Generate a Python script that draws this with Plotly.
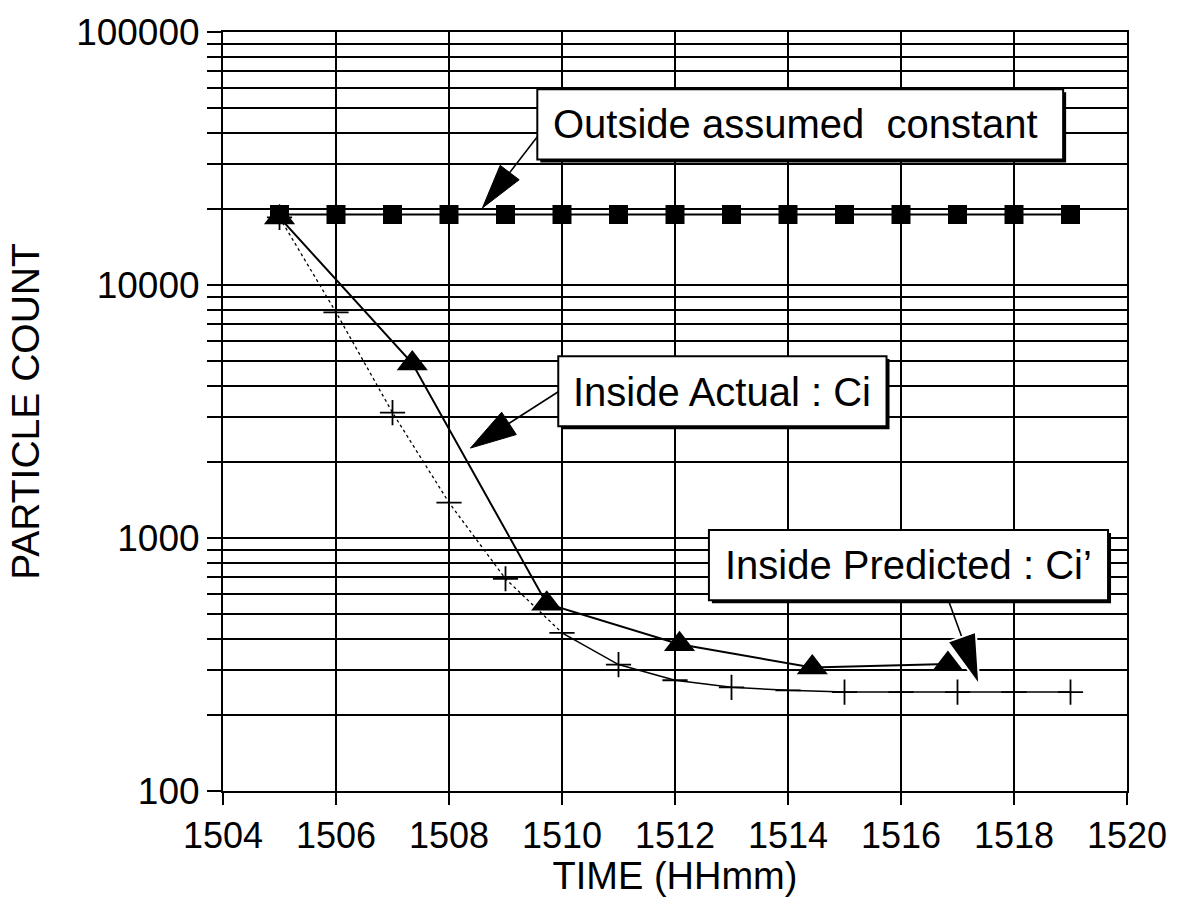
import math
import plotly.graph_objects as go

# ---- data -------------------------------------------------------------
# Outside concentration (assumed constant), one reading per minute
time_outside = [1505, 1506, 1507, 1508, 1509, 1510, 1511, 1512,
                1513, 1514, 1515, 1516, 1517, 1518, 1519]
count_outside = [19000, 19000, 19000, 19000, 19000, 19000, 19000, 19000,
                 19000, 19000, 19000, 19000, 19000, 19000, 19000]

# Inside measured concentration Ci
time_actual = [1505, 1507.35, 1509.73, 1512.08, 1514.43, 1516.83]
count_actual = [18500, 4900, 550, 380, 308, 318]

# Inside predicted concentration Ci'
time_pred = [1505, 1506, 1507, 1508, 1509, 1510, 1511, 1512,
             1513, 1514, 1515, 1516, 1517, 1518, 1519]
count_pred = [18500, 7800, 3130, 1380, 690, 422, 316, 274,
              257, 250, 246, 246, 246, 246, 246]

# axis ticks
x_ticks = [1504, 1506, 1508, 1510, 1512, 1514, 1516, 1518, 1520]
y_ticks = [100, 1000, 10000, 100000]
y_tick_text = ["100", "1000", "10000", "100000"]
y_minor = [200, 300, 400, 500, 600, 700, 800, 900,
           2000, 3000, 4000, 5000, 6000, 7000, 8000, 9000,
           20000, 30000, 40000, 50000, 60000, 70000, 80000, 90000]

FONT = "Liberation Sans, Arial, Helvetica, sans-serif"

# ---- figure geometry (pixels) ------------------------------------------
W, H = 1179, 897
L, R, T, B = 223, 1129, 28, 796


def px(x):
    return (x - L) / (R - L)


def py(y):
    return (B - y) / (B - T)


fig = go.Figure()

# predicted curve: dotted while falling, solid once it levels off
fig.add_trace(go.Scatter(x=time_pred[:6], y=count_pred[:6], mode="lines",
                         line=dict(color="black", width=1.3, dash="dot"),
                         hoverinfo="skip", showlegend=False))
fig.add_trace(go.Scatter(x=time_pred[5:], y=count_pred[5:], mode="lines",
                         line=dict(color="black", width=1.5),
                         hoverinfo="skip", showlegend=False))
fig.add_trace(go.Scatter(x=time_pred, y=count_pred, mode="markers",
                         marker=dict(symbol="cross-thin", size=18,
                                     line=dict(color="black", width=1.8)),
                         name="Inside Predicted : Ci'", showlegend=False))

fig.add_trace(go.Scatter(x=time_outside, y=count_outside, mode="lines+markers",
                         line=dict(color="black", width=2),
                         marker=dict(symbol="square", size=19, color="black"),
                         name="Outside", showlegend=False))

fig.add_trace(go.Scatter(x=time_actual, y=count_actual, mode="lines+markers",
                         line=dict(color="black", width=2),
                         marker=dict(symbol="triangle-up", size=27, color="black"),
                         name="Inside Actual : Ci", showlegend=False))

# ---- callout boxes and arrows --------------------------------------------
shapes = []
annotations = []


def callout(x0, y0, x1, y1, text, cx, cy):
    # drop shadow
    shapes.append(dict(type="rect", xref="paper", yref="paper",
                       x0=px(x0 + 3), x1=px(x1 + 3), y0=py(y0 + 3), y1=py(y1 + 3),
                       fillcolor="black", line=dict(width=0), layer="above"))
    shapes.append(dict(type="rect", xref="paper", yref="paper",
                       x0=px(x0), x1=px(x1), y0=py(y0), y1=py(y1),
                       fillcolor="white", line=dict(color="black", width=2),
                       layer="above"))
    annotations.append(dict(xref="paper", yref="paper", x=px(cx), y=py(cy),
                            text=text, showarrow=False, xanchor="center",
                            yanchor="middle",
                            font=dict(family=FONT, size=40, color="black")))


def arrow(sx, sy, tx, ty, head_len=45, head_w=24, outline=None):
    dx, dy = tx - sx, ty - sy
    d = math.hypot(dx, dy)
    ux, uy = dx / d, dy / d
    bx, by = tx - ux * head_len, ty - uy * head_len
    nx, ny = -uy, ux
    c1 = (bx + nx * head_w / 2, by + ny * head_w / 2)
    c2 = (bx - nx * head_w / 2, by - ny * head_w / 2)
    shapes.append(dict(type="line", xref="paper", yref="paper",
                       x0=px(sx), y0=py(sy), x1=px(bx + ux * 5), y1=py(by + uy * 5),
                       line=dict(color="black", width=1.6), layer="above"))
    path = "M {:.5f},{:.5f} L {:.5f},{:.5f} L {:.5f},{:.5f} Z".format(
        px(tx), py(ty), px(c1[0]), py(c1[1]), px(c2[0]), py(c2[1]))
    shapes.append(dict(type="path", xref="paper", yref="paper", path=path,
                       fillcolor="black",
                       line=dict(color=outline or "black", width=2 if outline else 1),
                       layer="above"))


callout(538, 86, 1065, 157, "Outside assumed\u00a0 constant", 797, 121)
arrow(538, 134, 483, 206)

callout(559, 356, 888, 427, "Inside Actual : Ci", 723, 392)
arrow(559, 392, 471, 449, head_len=46, head_w=27)

callout(710, 532, 1110, 603, "Inside Predicted : Ci\u2019", 910, 567)
arrow(950, 603, 981, 689, head_len=52, head_w=30, outline="white")

fig.update_layout(
    width=W, height=H,
    margin=dict(l=L, r=W - R, t=T, b=H - B),
    paper_bgcolor="white", plot_bgcolor="white",
    font=dict(family=FONT, color="black", size=36),
    shapes=shapes, annotations=annotations,
    showlegend=False,
)

fig.update_xaxes(
    range=[1504, 1520], tickvals=x_ticks,
    ticks="outside", ticklen=12, tickwidth=2, tickcolor="black",
    showgrid=True, gridcolor="black", gridwidth=1.5,
    showline=True, linecolor="black", linewidth=2, mirror=True,
    zeroline=False,
    tickfont=dict(family=FONT, size=36, color="black"),
    title=dict(text="TIME (HHmm)", standoff=2,
               font=dict(family=FONT, size=38, color="black")),
)

fig.update_yaxes(
    type="log", range=[2, 5], tickvals=y_ticks, ticktext=y_tick_text,
    ticks="outside", ticklen=14, tickwidth=2, tickcolor="black",
    showgrid=True, gridcolor="black", gridwidth=2,
    minor=dict(tickvals=y_minor, ticks="outside", ticklen=14, tickwidth=2,
               tickcolor="black", showgrid=True, gridcolor="black", gridwidth=2),
    showline=True, linecolor="black", linewidth=2, mirror=True,
    zeroline=False,
    tickfont=dict(family=FONT, size=37, color="black"),
    title=dict(text="PARTICLE COUNT", standoff=24,
               font=dict(family=FONT, size=39, color="black")),
)

fig.write_html("out.html")
